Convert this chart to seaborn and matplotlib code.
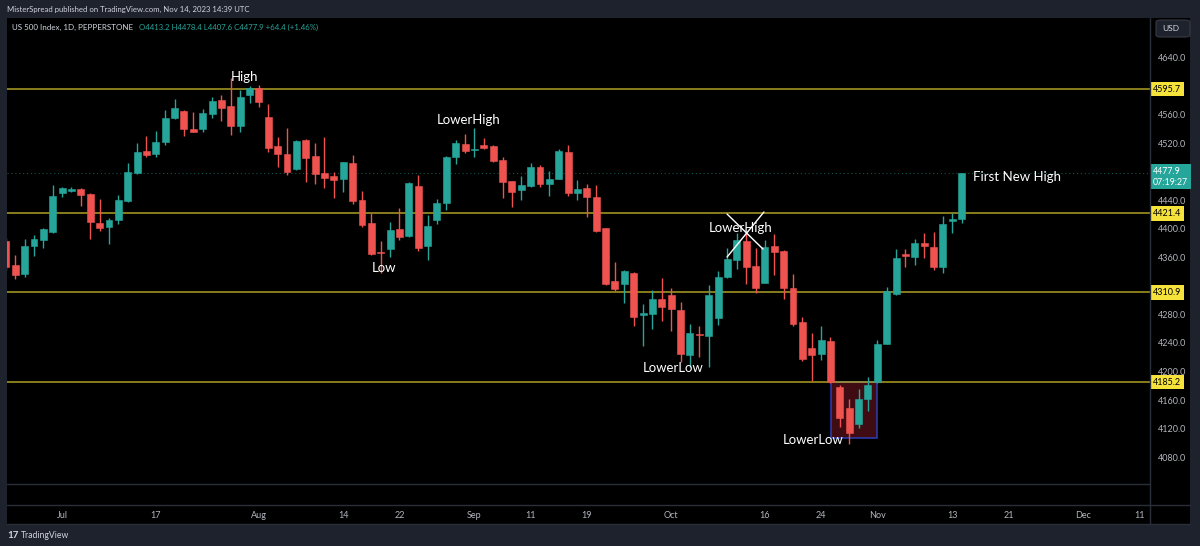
import numpy as np
import pandas as pd
import matplotlib
matplotlib.use("Agg")
import matplotlib.pyplot as plt
import matplotlib.transforms as mtransforms
from matplotlib.patches import Rectangle, FancyBboxPatch
from matplotlib.lines import Line2D
import seaborn as sns

# daily candles, 23 Jun -> 14 Nov 2023 (weekdays)
opens = [4383.2, 4349.1, 4336.5, 4375.7, 4384.1, 4395.8, 4450.4, 4452.8, 4455.2, 4448.6,
         4408.0, 4402.8, 4411.7, 4438.4, 4477.6, 4509.3, 4505.1, 4521.9, 4554.7, 4564.9,
         4540.1, 4539.2, 4560.3, 4580.3, 4571.9, 4544.3, 4587.3, 4597.5, 4556.5, 4515.8,
         4505.1, 4483.2, 4524.2, 4501.4, 4477.6, 4473.4, 4469.2, 4492.0, 4440.2, 4407.5,
         4367.8, 4371.1, 4399.1, 4390.2, 4460.2, 4376.2, 4412.2, 4436.4, 4500.0, 4518.6,
         4510.2, 4516.8, 4516.3, 4496.2, 4466.8, 4454.2, 4460.5, 4486.0, 4463.3, 4470.3,
         4507.9, 4450.7, 4456.6, 4444.8, 4400.7, 4326.7, 4322.2, 4338.6, 4278.7, 4280.1,
         4301.2, 4306.7, 4286.1, 4223.5, 4252.9, 4250.1, 4274.5, 4332.7, 4356.1, 4382.3,
         4348.1, 4324.6, 4375.7, 4368.7, 4317.3, 4268.8, 4232.4, 4224.2, 4243.1, 4178.6,
         4149.2, 4125.9, 4161.4, 4184.8, 4238.9, 4308.5, 4364.5, 4360.8, 4379.5, 4374.8,
         4345.9, 4411.2, 4413.2]
highs = [4387.0, 4363.1, 4386.0, 4391.2, 4400.5, 4460.8, 4458.8, 4458.4, 4457.4, 4449.5,
         4441.2, 4415.4, 4447.2, 4491.6, 4520.0, 4529.9, 4537.3, 4566.3, 4582.1, 4566.3,
         4563.9, 4567.3, 4584.9, 4587.7, 4611.5, 4593.9, 4599.5, 4601.3, 4574.3, 4528.0,
         4541.5, 4524.3, 4525.0, 4519.6, 4528.0, 4479.8, 4494.0, 4503.2, 4452.8, 4422.4,
         4382.7, 4408.9, 4429.4, 4465.0, 4475.6, 4418.8, 4441.2, 4502.3, 4523.8, 4532.7,
         4540.6, 4526.6, 4517.0, 4500.0, 4467.5, 4473.8, 4492.4, 4489.2, 4480.8, 4511.6,
         4517.2, 4468.2, 4462.3, 4461.9, 4401.5, 4353.7, 4341.5, 4339.5, 4294.2, 4314.1,
         4330.5, 4316.5, 4296.9, 4266.2, 4264.1, 4321.1, 4341.0, 4372.9, 4394.4, 4395.4,
         4373.4, 4384.1, 4391.9, 4369.5, 4336.1, 4275.6, 4253.4, 4264.1, 4247.8, 4181.0,
         4161.0, 4175.0, 4192.6, 4244.0, 4318.7, 4371.1, 4371.5, 4385.1, 4393.5, 4395.8,
         4417.8, 4421.6, 4478.4]
lows = [4342.1, 4329.5, 4332.7, 4361.7, 4372.5, 4394.0, 4444.0, 4451.8, 4431.8, 4385.1,
        4397.2, 4378.5, 4407.0, 4437.0, 4476.0, 4500.9, 4500.0, 4517.2, 4553.0, 4529.9,
        4535.0, 4535.9, 4555.5, 4551.3, 4531.3, 4535.9, 4575.7, 4570.9, 4507.9, 4486.8,
        4475.2, 4482.0, 4465.8, 4462.6, 4457.4, 4443.4, 4451.8, 4434.6, 4403.0, 4363.0,
        4337.5, 4360.8, 4383.7, 4389.0, 4369.2, 4356.1, 4406.6, 4426.2, 4490.2, 4506.5,
        4500.9, 4511.2, 4494.0, 4443.0, 4431.1, 4440.2, 4458.8, 4458.0, 4445.8, 4469.0,
        4445.8, 4440.2, 4416.8, 4396.0, 4321.0, 4313.4, 4295.5, 4263.7, 4236.1, 4259.5,
        4270.7, 4257.1, 4213.6, 4206.6, 4220.7, 4205.8, 4264.4, 4331.0, 4343.1, 4323.2,
        4309.5, 4323.5, 4335.1, 4301.2, 4264.1, 4215.3, 4186.6, 4216.0, 4183.5, 4122.6,
        4098.3, 4121.2, 4145.0, 4184.0, 4238.0, 4307.1, 4346.7, 4349.1, 4359.4, 4342.1,
        4338.3, 4393.5, 4407.6]
closes = [4345.9, 4335.1, 4375.7, 4385.1, 4399.1, 4445.8, 4457.0, 4456.0, 4446.8, 4408.9,
          4401.0, 4412.6, 4440.2, 4479.4, 4507.9, 4503.2, 4521.0, 4555.5, 4568.7, 4539.2,
          4535.9, 4562.1, 4579.3, 4568.7, 4544.3, 4584.1, 4596.7, 4577.5, 4513.5, 4504.2,
          4479.4, 4523.3, 4499.5, 4476.2, 4470.6, 4467.8, 4493.0, 4438.4, 4404.7, 4364.5,
          4365.9, 4397.7, 4388.4, 4464.0, 4372.5, 4404.2, 4436.4, 4500.9, 4519.6, 4508.8,
          4512.1, 4513.7, 4495.2, 4465.0, 4452.1, 4460.8, 4486.8, 4463.3, 4470.0, 4509.1,
          4449.6, 4455.9, 4444.8, 4397.2, 4322.2, 4315.5, 4340.7, 4276.7, 4281.5, 4301.1,
          4290.0, 4287.5, 4224.4, 4253.2, 4250.8, 4307.4, 4332.7, 4357.1, 4384.1, 4345.9,
          4316.6, 4374.8, 4367.8, 4316.6, 4266.2, 4217.0, 4223.0, 4244.0, 4184.8, 4134.4,
          4114.2, 4161.8, 4181.0, 4238.0, 4312.7, 4359.4, 4362.2, 4379.5, 4376.2, 4346.7,
          4406.1, 4413.6, 4477.9]

levels = [4595.7, 4421.4, 4310.9, 4185.2]
last_price = 4477.9

tick_pos = [6, 16, 27, 36, 42, 50, 56, 62, 71, 81, 87, 93, 101, 107, 115, 121]
tick_lab = ["Jul", "17", "Aug", "14", "22", "Sep", "11", "19",
            "Oct", "16", "24", "Nov", "13", "21", "Dec", "11"]
# 4600, 4480 and 4320 sit under the price labels in the original
price_ticks = [4080, 4120, 4160, 4200, 4240, 4280, 4360, 4400, 4440, 4520, 4560, 4640]

df = pd.DataFrame({"date": pd.bdate_range("2023-06-23", "2023-11-14"),
                   "open": opens, "high": highs, "low": lows, "close": closes})
df["pos"] = np.arange(len(df))
df["up"] = df["close"] >= df["open"]

UP, DOWN = "#26a69a", "#ef5350"
FRAME = "#1e222d"
GRID = "#2a2e39"
TXT = "#b2b5be"

sns.set_theme(style="dark")
plt.rcParams["font.family"] = ["Lato", "DejaVu Sans"]

W, H = 1200, 546
fig = plt.figure(figsize=(12, 5.46), dpi=100, facecolor=FRAME)
fx = lambda px: px / W
fy = lambda py: 1 - py / H

fig.patches.append(Rectangle((fx(7), fy(524)), fx(1190) - fx(7), fy(18) - fy(524),
                             transform=fig.transFigure, facecolor="black",
                             edgecolor="none", zorder=-10))

ax = fig.add_axes([fx(7), fy(505), fx(1150) - fx(7), fy(18) - fy(505)])
ax.set_facecolor("black")
ax.set_xlim(0.117, 122.1)
ax.set_ylim(4012.9, 4695.2)
ax.grid(False)
for s in ax.spines.values():
    s.set_visible(False)

colors = np.where(df["up"], UP, DOWN)
body_lo = np.minimum(df["open"], df["close"])
body_h = np.maximum(np.abs(df["close"] - df["open"]), 1.3)
ax.vlines(df["pos"], df["low"], df["high"], colors=colors, lw=1, zorder=3)
ax.bar(df["pos"], body_h, bottom=body_lo, width=0.74, color=colors,
       edgecolor=colors, linewidth=0.4, zorder=4)

for lvl in levels:
    ax.axhline(lvl, color="#ad9f24", lw=1.1, zorder=2)
ax.axhline(last_price, color=UP, lw=0.8, ls=(0, (1, 2.5)), alpha=0.5, zorder=2)
ax.axhline(4042.3, color=GRID, lw=1, zorder=1)

# box around the lower low
ax.add_patch(Rectangle((88.03, 4106.3), 4.97, 78.5, facecolor="#3e0c12",
                       edgecolor="#2e3db5", lw=1.1, zorder=1.5))

# crossed-out lower high
ax.plot([76.96, 80.8], [4420.6, 4371.5], color="white", lw=1, zorder=6)
ax.plot([80.9, 76.96], [4423.4, 4360.3], color="white", lw=1, zorder=6)

notes = [("High", 25.5, 4612.5, "center"), ("LowerHigh", 49.4, 4552.3, "center"),
         ("Low", 40.35, 4344.9, "center"), ("LowerHigh", 78.45, 4401.0, "center"),
         ("LowerLow", 71.2, 4204.8, "center"), ("LowerLow", 86.2, 4103.9, "center"),
         ("First New High", 103.2, 4472.4, "left")]
for t, x, y, ha in notes:
    ax.text(x, y, t, color="white", fontsize=9.5, ha=ha, va="center", zorder=7)

# price axis
ax.yaxis.tick_right()
ax.set_yticks(price_ticks)
ax.set_yticklabels([f"{v:.1f}" for v in price_ticks])
ax.tick_params(axis="y", length=0, pad=6, labelsize=6.5, labelcolor=TXT)
ax.set_xticks(tick_pos)
ax.set_xticklabels(tick_lab)
ax.tick_params(axis="x", length=0, pad=4, labelsize=6.5, labelcolor=TXT)

ytrans = mtransforms.blended_transform_factory(ax.transAxes, ax.transData)
for lvl in levels:
    ax.text(1.0025, lvl, f"{lvl:.1f}", transform=ytrans, ha="left", va="center",
            fontsize=6.5, color="black", clip_on=False, zorder=10,
            bbox=dict(boxstyle="square,pad=0.3", fc="#f5e33c", ec="none"))
ax.text(1.0025, last_price - 5, f"{last_price:.1f}\n07:19:27", transform=ytrans,
        ha="left", va="center", fontsize=6.3, color="white", linespacing=1.3,
        clip_on=False, zorder=10,
        bbox=dict(boxstyle="square,pad=0.3", fc=UP, ec="none"))

# frame lines
for (x0, y0, x1, y1) in [(1150, 18, 1150, 524), (7, 505, 1190, 505), (7, 524, 1190, 524)]:
    fig.add_artist(Line2D([fx(x0), fx(x1)], [fy(y0), fy(y1)], color=GRID, lw=1,
                          transform=fig.transFigure))

fig.patches.append(FancyBboxPatch((fx(1156), fy(37)), fx(34), 17 / H,
                                  boxstyle="round,pad=0,rounding_size=0.004",
                                  transform=fig.transFigure, facecolor=FRAME,
                                  edgecolor="#363a45", lw=0.8, zorder=5))
fig.text(fx(1162), fy(28.5), "USD", color="#d1d4dc", fontsize=6, va="center", zorder=6)

fig.text(fx(7), fy(9), "MisterSpread published on TradingView.com, Nov 14, 2023 14:39 UTC",
         color="#d1d4dc", fontsize=5.6, va="center")
title = fig.text(fx(12), fy(27), "US 500 Index, 1D, PEPPERSTONE", color="#d1d4dc",
                 fontsize=5.8, va="center")
fig.add_artist(matplotlib.text.Annotation(
    "O4413.2 H4478.4 L4407.6 C4477.9 +64.4 (+1.46%)", xy=(1, 0.5), xycoords=title,
    xytext=(4, 0), textcoords="offset points", ha="left", va="center",
    color=UP, fontsize=5.6))
fig.text(fx(7), fy(535), "17", color="#d1d4dc", fontsize=7, fontweight="bold", va="center")
fig.text(fx(21), fy(535), "TradingView", color="#d1d4dc", fontsize=6.2, va="center")

fig.savefig("out.png", dpi=100, facecolor=FRAME)
